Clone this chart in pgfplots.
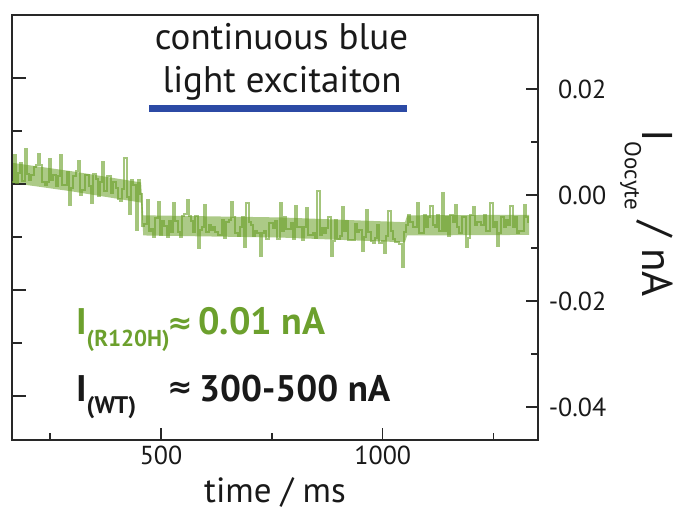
\documentclass[border=0pt]{standalone}
\usepackage{pgfplots}
\pgfplotsset{compat=1.18}
\usepgfplotslibrary{fillbetween}
\usepackage{fontspec}
\setmainfont{PT Sans}
\newfontfamily\symfont{DejaVu Sans}

\definecolor{trace}{RGB}{104,158,36}
\definecolor{annogreen}{RGB}{108,160,45}
\definecolor{barblue}{RGB}{44,74,165}
\definecolor{axisgray}{RGB}{40,40,40}

% current trace, time in ms, current in 1e-3 nA
\pgfplotstableread{
t y
165 2.4
170 7.5
175 2.3
180 4.2
185 6.1
190 2.7
195 8.8
200 4.0
205 2.9
210 3.8
215 5.4
220 5.7
225 7.8
230 5.6
235 2.5
240 2.0
245 2.4
250 6.9
255 2.9
260 3.8
265 1.7
270 3.7
275 7.6
280 1.9
285 1.9
290 4.4
295 -1.8
300 1.3
305 3.6
310 4.5
315 6.4
320 0.0
325 1.0
330 3.9
335 3.8
340 1.8
345 -1.5
350 4.0
355 3.0
360 -0.1
365 2.4
370 6.2
375 0.7
380 3.7
385 3.6
390 0.5
395 2.5
400 1.4
405 -0.7
410 -1.1
415 1.2
420 7.0
425 -0.3
430 -3.5
435 2.9
440 1.9
445 -6.5
450 2.8
455 0.3
460 -5.8
465 -5.4
470 -1.0
475 -6.8
480 -6.4
485 -7.8
490 -4.4
495 -1.2
500 -7.5
505 -4.9
510 -5.9
515 -7.9
520 -4.9
525 -6.9
530 -1.5
535 -4.9
540 -6.9
545 -7.9
550 -3.9
555 -3.5
560 -1.0
565 -3.9
570 -4.9
575 -7.0
580 -4.0
585 -10.0
590 -6.6
595 -6.0
600 -1.8
605 -7.0
610 -5.6
615 -6.6
620 -6.0
625 -7.0
630 -7.6
635 -7.6
640 -4.6
645 -8.0
650 -5.0
655 -4.7
660 -1.2
665 -4.1
670 -7.1
675 -7.7
680 -6.1
685 -4.1
690 -9.8
695 -1.5
700 -5.1
705 -5.7
710 -7.7
715 -6.7
720 -7.1
725 -11.5
730 -7.2
735 -6.8
740 -8.2
745 -5.2
750 -5.2
755 -6.2
760 -4.8
765 -8.2
770 -1.5
775 -6.8
780 -4.2
785 -6.3
790 -6.3
795 -5.3
800 -8.3
805 -2.0
810 -6.0
815 -6.0
820 -8.4
825 -6.0
830 -2.5
835 -7.5
840 -7.5
845 -7.1
850 -8.1
855 0.8
860 -7.6
865 -6.2
870 -7.2
875 -6.2
880 -4.2
885 -11.5
890 -8.7
895 -4.7
900 -8.3
905 -7.7
910 -2.3
915 -6.8
920 -4.8
925 -8.4
930 -8.4
935 -8.5
940 -5.5
945 -6.9
950 -6.5
955 -10.5
960 -7.9
965 -2.8
970 -7.0
975 -8.6
980 -9.0
985 -8.0
990 -5.7
995 -9.1
1000 -8.7
1005 -11.0
1010 -7.7
1015 -3.0
1020 -6.8
1025 -8.2
1030 -8.8
1035 -8.8
1040 -9.3
1045 -13.5
1050 -6.9
1055 -5.7
1060 -3.7
1065 -5.1
1070 -6.1
1075 -6.1
1080 -1.5
1085 -7.1
1090 -7.1
1095 -3.7
1100 -6.1
1105 -4.1
1110 -2.0
1115 -5.7
1120 -6.1
1125 -3.7
1130 -6.7
1135 0.5
1140 -6.7
1145 -4.1
1150 -7.7
1155 -3.7
1160 -5.1
1165 -1.8
1170 -6.1
1175 -7.1
1180 -4.1
1185 -4.1
1190 -9.8
1195 -8.1
1200 -3.7
1205 -2.2
1210 -5.7
1215 -5.1
1220 -5.1
1225 -5.7
1230 -3.7
1235 -6.7
1240 -6.7
1245 -1.5
1250 -6.1
1255 -5.1
1260 -9.5
1265 -7.1
1270 -4.1
1275 -6.1
1280 -4.7
1285 -5.7
1290 -2.0
1295 -6.1
1300 -4.1
1305 -7.1
1310 -6.7
1315 -6.7
1320 -1.8
1325 -4.1
1330 -5.1
}\tracedata

% dense core of the noise band: upper and lower edge
\pgfplotstableread{
t up lo
165 6.1 2.3
300 4.5 0.7
455 2.4 -1.4
460 -3.8 -7.6
770 -4.2 -8.0
1050 -5.1 -8.9
1055 -3.8 -7.6
1330 -3.7 -7.5
}\banddata

\begin{document}
\begin{tikzpicture}
% left-hand tick marks (separate scale, no labels)
\begin{axis}[
  at={(0pt,0pt)}, anchor=south west,
  scale only axis, width=526pt, height=425pt,
  xmin=164, xmax=1350, ymin=-46.2, ymax=34.0,
  hide x axis,
  axis y line*=left,
  axis line style={line width=1.4pt, color=axisgray},
  ytick={22.1,2.1,-17.9,-37.9},
  minor ytick={12.1,-7.9,-27.9},
  yticklabels={},
  tick align=inside,
  major tick length=14pt, minor tick length=10pt,
  every tick/.style={line width=1.4pt, color=axisgray},
]
\end{axis}
% main axis with the trace
\begin{axis}[
  at={(0pt,0pt)}, anchor=south west,
  scale only axis, width=526pt, height=425pt,
  xmin=164, xmax=1350, ymin=-46.2, ymax=34.0,
  axis line style={line width=1.4pt, color=axisgray},
  xtick={500,1000}, xticklabels={500,1000},
  minor xtick={250,750,1250},
  ytick={-40,-20,0,20}, yticklabels={-0.04,-0.02,0.00,0.02},
  minor ytick={-30,-10,10},
  xtick pos=bottom, ytick pos=right,
  tick align=inside,
  major tick length=12pt, minor tick length=7pt,
  every tick/.style={line width=1.4pt, color=axisgray},
  tick label style={font=\fontsize{26}{30}\selectfont, color=black!90},
  yticklabel style={anchor=west, inner sep=0pt, text width=68pt, align=right},
  xticklabel style={yshift=-2pt},
  xlabel={time / ms},
  xlabel style={at={(rel axis cs:0.5,0)}, anchor=base, yshift=-62pt,
    font=\fontsize{35}{40}\selectfont, color=black!90},
  ylabel={I\raisebox{-18pt}{\fontsize{23}{26}\selectfont Oocyte} / nA},
  ylabel style={at={(rel axis cs:1.1996,0.534)}, anchor=base, rotate=-180,
    font=\fontsize{43}{48}\selectfont, color=black!90},
  clip=false,
]
\addplot[name path=up, draw=none, forget plot] table[x=t, y=up] {\banddata};
\addplot[name path=lo, draw=none, forget plot] table[x=t, y=lo] {\banddata};
\addplot[fill=trace, fill opacity=0.55, draw=none] fill between[of=up and lo];
\addplot[color=trace, opacity=0.6, line width=2pt, const plot mark mid]
  table[x=t, y=y] {\tracedata};
% light-on interval
\addplot[color=barblue, line width=7pt] coordinates {(473,16.4) (1055,16.4)};
\end{axis}

\node[anchor=base, font=\fontsize{37}{42}\selectfont, color=black!90]
  at (269.5pt,390pt) {continuous blue};
\node[anchor=base, font=\fontsize{37}{42}\selectfont, color=black!90]
  at (270pt,347pt) {light excitaiton};

\node[anchor=base west, inner sep=0pt, font=\bfseries\fontsize{37}{42}\selectfont, color=annogreen]
  at (64pt,105pt) {I\raisebox{-12pt}{\fontsize{23}{26}\selectfont (R120H)}};
\node[inner sep=0pt, font=\symfont\bfseries\fontsize{30}{34}\selectfont, color=annogreen]
  at (168pt,114pt) {≈};
\node[anchor=base west, inner sep=0pt, font=\bfseries\fontsize{38}{42}\selectfont, color=annogreen]
  at (186pt,105pt) {0.01 nA};

\node[anchor=base west, inner sep=0pt, font=\bfseries\fontsize{37}{42}\selectfont, color=black!90]
  at (64pt,38pt) {I\raisebox{-12pt}{\fontsize{24}{27}\selectfont (WT)}};
\node[inner sep=0pt, font=\symfont\bfseries\fontsize{30}{34}\selectfont, color=black!90]
  at (168pt,50pt) {≈};
\node[anchor=base west, inner sep=0pt, font=\bfseries\fontsize{37}{42}\selectfont, color=black!90]
  at (187pt,38pt) {300-500 nA};

\pgfresetboundingbox
\useasboundingbox (-12pt,-71pt) rectangle (662pt,440pt);
\end{tikzpicture}
\end{document}
